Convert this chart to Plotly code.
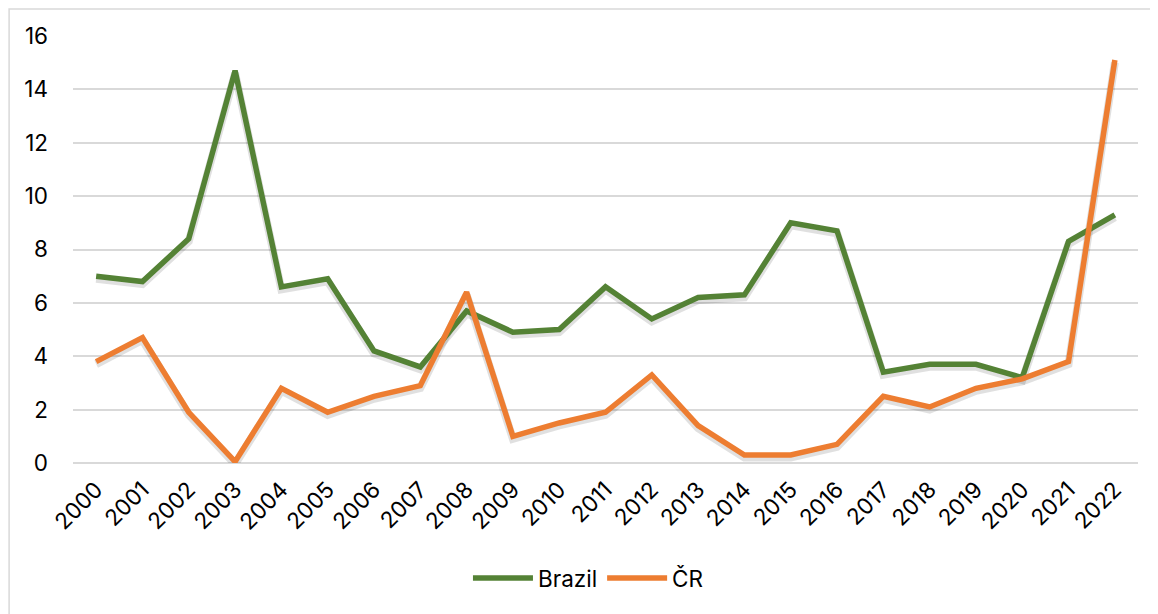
import plotly.graph_objects as go

years = [str(y) for y in range(2000, 2023)]
brazil = [7.0, 6.8, 8.4, 14.7, 6.6, 6.9, 4.2, 3.6, 5.7, 4.9, 5.0, 6.6, 5.4, 6.2, 6.3, 9.0, 8.7, 3.4, 3.7, 3.7, 3.2, 8.3, 9.3]
cr = [3.8, 4.7, 1.9, 0.05, 2.8, 1.9, 2.5, 2.9, 6.4, 1.0, 1.5, 1.9, 3.3, 1.4, 0.3, 0.3, 0.7, 2.5, 2.1, 2.8, 3.15, 3.8, 15.1]

fig = go.Figure()
# soft shadows on the base axis (range shifted by a few pixels)
for vals in (brazil, cr):
    fig.add_trace(go.Scatter(x=years, y=vals, mode="lines", yaxis="y", showlegend=False,
                             hoverinfo="skip",
                             line=dict(color="rgba(0,0,0,0.12)", width=8)))
fig.add_trace(go.Scatter(x=years, y=brazil, name="Brazil", mode="lines", yaxis="y2",
                         line=dict(color="#548235", width=5.5)))
fig.add_trace(go.Scatter(x=years, y=cr, name="ČR", mode="lines", yaxis="y2",
                         line=dict(color="#ED7D31", width=5.5)))

shift = 16 / 427 * 2.5
fsz = 22.5
fig.update_layout(
    width=1158, height=614,
    margin=dict(l=65, r=28, t=28, b=159),
    paper_bgcolor="white", plot_bgcolor="white",
    font=dict(family="Inter, Roboto, sans-serif", size=fsz, color="#000000"),
    legend=dict(orientation="h", x=0.484, xanchor="center", y=-0.27, yanchor="middle",
                font=dict(size=fsz), itemwidth=60),
    xaxis=dict(type="category", tickangle=-45, showgrid=False, showline=False,
               ticks="", tickfont=dict(size=fsz), range=[-0.5, 22.5], automargin=False,
               ticklabelstandoff=8),
    yaxis=dict(range=[shift, 16 + shift], visible=False, showgrid=False, zeroline=False,
               automargin=False),
    yaxis2=dict(overlaying="y", side="left", range=[0, 16], dtick=2, showgrid=True,
                gridcolor="#d9d9d9", gridwidth=1.5,
                zeroline=True, zerolinecolor="#d9d9d9", zerolinewidth=1.5, automargin=False,
                showline=False, ticks="", ticklabelstandoff=24, tickfont=dict(size=fsz)),
    shapes=[dict(type="rect", xref="paper", yref="paper",
                 x0=-0.060, x1=1.1, y0=-0.5, y1=1.063,
                 line=dict(color="#d9d9d9", width=1.5), fillcolor="rgba(0,0,0,0)",
                 layer="below")],
    showlegend=True,
)

fig.write_html("out.html")
